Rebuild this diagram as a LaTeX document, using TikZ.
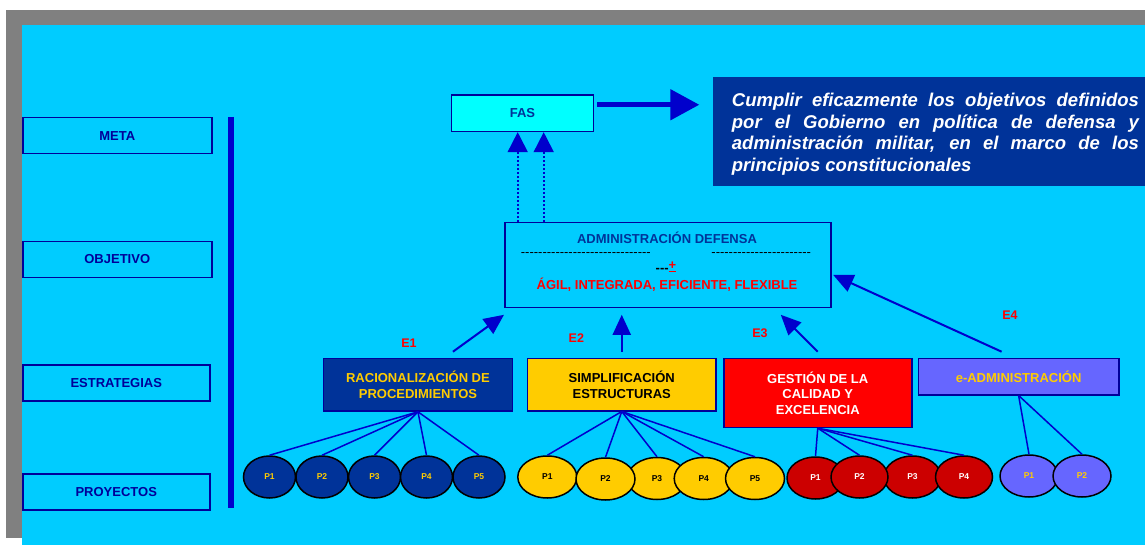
\documentclass[tikz,border=0pt]{standalone}
\usepackage{fontspec}
\setmainfont{Liberation Sans}
\usetikzlibrary{arrows.meta,shapes.geometric}

\definecolor{sky}{HTML}{00CCFF}
\definecolor{frame}{HTML}{808080}
\definecolor{navy}{HTML}{000099}
\definecolor{royal}{HTML}{0000CC}
\definecolor{deep}{HTML}{003399}
\definecolor{aqua}{HTML}{00FFFF}
\definecolor{gold}{HTML}{FFCC00}
\definecolor{brightred}{HTML}{FF0000}
\definecolor{darkred}{HTML}{CC0000}
\definecolor{lilac}{HTML}{6666FF}

\newcommand{\dashrun}[1]{\foreach \k in {1,...,#1}{-\kern0pt}}

\begin{document}
\begin{tikzpicture}[x=1pt, y=-1pt,
    tier/.style={draw=navy, line width=1.5pt, text=navy, font=\fontsize{13}{15}\selectfont\bfseries,
        inner sep=0pt, anchor=north west, minimum height=36pt},
    strat/.style={draw=navy, line width=1.5pt, font=\fontsize{13}{15.5}\selectfont\bfseries,
        align=center, inner sep=0pt, anchor=north west},
    proj/.style={ellipse, draw=black, line width=1.5pt, minimum height=42pt, inner sep=0pt,
        font=\fontsize{8.5}{10}\selectfont\bfseries},
    rowa/.style={proj, fill=deep, text=gold, minimum width=52pt},
    rowb/.style={proj, fill=gold, text=black, minimum width=59pt},
    rowc/.style={proj, fill=darkred, text=white, minimum width=57pt},
    rowd/.style={proj, fill=lilac, text=gold, minimum width=58pt},
    link/.style={royal, line width=1.5pt},
    push/.style={royal, line width=2pt, -{Triangle[length=20pt,width=18pt]}},
    lift/.style={royal, line width=1.8pt, dash pattern=on 1.8pt off 2.2pt, -{Triangle[length=20pt,width=20pt]}},
    elabel/.style={text=brightred, font=\fontsize{12.5}{14}\selectfont\bfseries}]

    % background and frame
    \fill[white] (0,0) rectangle (1145,545);
    \fill[frame] (6,10) rectangle (1145,538);
    \fill[sky] (22,25) rectangle (1145,545);
    \useasboundingbox (0,0) rectangle (1145,545);

    % these are the levels on the left
    \node[tier, minimum width=189pt] (meta) at (22,117) {META};
    \node[tier, minimum width=189pt] (objetivo) at (22,240.7) {OBJETIVO};
    \node[tier, minimum width=187pt] (estrategias) at (22,364) {ESTRATEGIAS};
    \node[tier, minimum width=187pt] (proyectos) at (22,473.3) {PROYECTOS};
    \draw[royal, line width=6pt] (230.7,117) -- (230.7,508);

    % goal
    \node[draw=navy, fill=aqua, line width=1.5pt, minimum width=142pt, minimum height=36.4pt,
        anchor=north west, inner sep=0pt, text=deep, font=\fontsize{13}{15}\selectfont\bfseries]
        (fas) at (450.7,94.3) {FAS};
    \node[fill=deep, text=white, anchor=north west, text width=407pt, align=justify,
        inner xsep=19pt, inner ysep=0pt, minimum height=109.3pt,
        font=\fontsize{18.5}{21.7}\selectfont\bfseries\itshape] (goal) at (712.7,76.7)
        {\rule{0pt}{19pt}Cumplir eficazmente los objetivos definidos\linebreak
         por el Gobierno en política de defensa y\linebreak
         administración militar, en el marco de los\linebreak
         principios constitucionales};
    \coordinate (fasout) at ([yshift=8.5pt]fas.east);
    \draw[royal, line width=5pt, -{Triangle[length=29pt,width=30pt]}, shorten <=3pt, shorten >=13.4pt]
        (fasout) -- (fasout -| goal.west);

    % objective
    \node[draw=navy, line width=1.5pt, minimum width=326pt, minimum height=85pt,
        anchor=north west, inner sep=0pt] (adm) at (504,221.7) {};
    \node[text=deep, font=\fontsize{13}{15}\selectfont\bfseries] (admtitle) at (667,238.3)
        {ADMINISTRACIÓN DEFENSA};
    \node[font=\fontsize{13}{15}\selectfont, inner sep=0pt] (dashl) at (585.8,254.3) {\dashrun{30}};
    \node[font=\fontsize{13}{15}\selectfont, inner sep=0pt] (dashr) at (761.2,254.3) {\dashrun{23}};
    \node[font=\fontsize{13}{15}\selectfont\bfseries, inner sep=0pt] (plus) at (666,267)
        {\raisebox{-3pt}{\dashrun{3}}\textcolor{brightred}{\underline{+}}};
    \node[text=brightred, font=\fontsize{13}{15}\selectfont\bfseries] (traits) at (667,285)
        {ÁGIL, INTEGRADA, EFICIENTE, FLEXIBLE};

    \coordinate (up1) at ([xshift=13.7pt]adm.north west);
    \coordinate (up2) at ([xshift=39.7pt]adm.north west);
    \draw[lift] (up1) -- (up1 |- fas.south);
    \draw[lift] (up2) -- (up2 |- fas.south);

    % strategies
    \node[strat, fill=deep, text=gold, minimum width=189pt, minimum height=52.6pt]
        (rac) at (322.7,357.7) {RACIONALIZACIÓN DE\\PROCEDIMIENTOS};
    \node[strat, fill=gold, text=black, minimum width=188.6pt, minimum height=52.3pt]
        (simp) at (526.7,357.7) {SIMPLIFICACIÓN\\ESTRUCTURAS};
    \node[strat, fill=brightred, text=white, minimum width=188pt, minimum height=69pt]
        (qual) at (723,357.7) {GESTIÓN DE LA\\CALIDAD Y\\EXCELENCIA};
    \node[strat, fill=lilac, text=gold, minimum width=200.3pt, minimum height=36.3pt]
        (eadm) at (917.7,357.7) {e-ADMINISTRACIÓN};

    \node[elabel] (e1) at (409,343) {E1};
    \node[elabel] (e2) at (576.3,337.7) {E2};
    \node[elabel] (e3) at (760,333.3) {E3};
    \node[elabel] (e4) at (1010,315) {E4};

    \draw[push] ([xshift=35pt,yshift=6pt]rac.north) -- ([yshift=-6.6pt]adm.south west);
    \draw[push] ([yshift=6pt]simp.north) -- ([yshift=-6.6pt]simp.north |- adm.south);
    \draw[push] ([yshift=6pt]qual.north) -- ([xshift=-50.7pt,yshift=-6.6pt]adm.south east);
    \draw[push] ([xshift=-17pt,yshift=6pt]eadm.north) -- ([xshift=1.7pt,yshift=-10pt]adm.east);

    % these are the projects
    \node[rowa] (ra1) at (269.5,477) {P1};
    \node[rowa] (ra2) at (322,477) {P2};
    \node[rowa] (ra3) at (374.5,477) {P3};
    \node[rowa] (ra4) at (426.5,477) {P4};
    \node[rowa] (ra5) at (479,477) {P5};

    \node[rowb] (si1) at (547.3,477) {P1};
    \node[rowb] (si3) at (657,478.5) {P3};
    \node[rowb] (si2) at (605.5,479) {P2};
    \node[rowb] (si4) at (703.7,478.5) {P4};
    \node[rowb] (si5) at (755,478.5) {P5};

    \node[rowc] (ca1) at (815.5,478) {P1};
    \node[rowc] (ca3) at (912.5,477) {P3};
    \node[rowc] (ca2) at (859.5,477) {P2};
    \node[rowc] (ca4) at (964,477) {P4};

    \node[rowd] (ea1) at (1029,476) {P1};
    \node[rowd] (ea2) at (1082,476) {P2};

    \draw[link] (rac.south) -- (ra1.north);
    \draw[link] (rac.south) -- (ra2.north);
    \draw[link] (rac.south) -- (ra3.north);
    \draw[link] (rac.south) -- (ra4.north);
    \draw[link] (rac.south) -- (ra5.north);

    \draw[link] (simp.south) -- (si1.north);
    \draw[link] (simp.south) -- (si2.north);
    \draw[link] (simp.south) -- (si3.north);
    \draw[link] (simp.south) -- (si4.north);
    \draw[link] (simp.south) -- (si5.north);

    \draw[link] (qual.south) -- (ca1.north);
    \draw[link] (qual.south) -- (ca2.north);
    \draw[link] (qual.south) -- (ca3.north);
    \draw[link] (qual.south) -- (ca4.north);

    \draw[link] (eadm.south) -- (ea1.north);
    \draw[link] (eadm.south) -- (ea2.north);

\end{tikzpicture}
\end{document}
